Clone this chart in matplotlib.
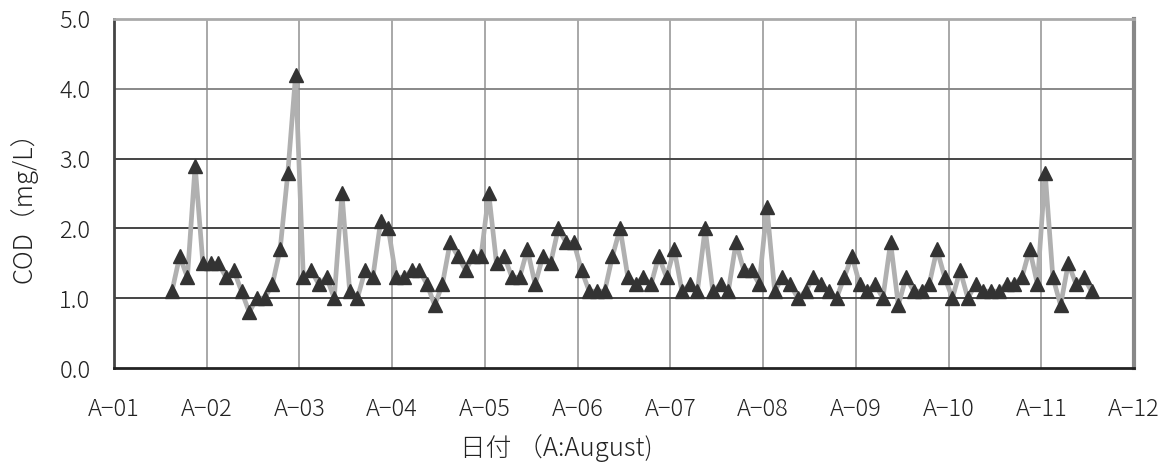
import numpy as np
import matplotlib
matplotlib.use("Agg")
import matplotlib.pyplot as plt

plt.rcParams["font.family"] = ["Noto Sans CJK JP", "DejaVu Sans"]

# COD Messwerte (mg/L), 12 Werte pro Tag
cod = [
    1.1, 1.6, 1.3, 2.9, 1.5, 1.5, 1.5, 1.3, 1.4, 1.1,
    0.8, 1.0, 1.0, 1.2, 1.7, 2.8, 4.2, 1.3, 1.4, 1.2,
    1.3, 1.0, 2.5, 1.1, 1.0, 1.4, 1.3, 2.1, 2.0, 1.3,
    1.3, 1.4, 1.4, 1.2, 0.9, 1.2, 1.8, 1.6, 1.4, 1.6,
    1.6, 2.5, 1.5, 1.6, 1.3, 1.3, 1.7, 1.2, 1.6, 1.5,
    2.0, 1.8, 1.8, 1.4, 1.1, 1.1, 1.1, 1.6, 2.0, 1.3,
    1.2, 1.3, 1.2, 1.6, 1.3, 1.7, 1.1, 1.2, 1.1, 2.0,
    1.1, 1.2, 1.1, 1.8, 1.4, 1.4, 1.2, 2.3, 1.1, 1.3,
    1.2, 1.0, 1.1, 1.3, 1.2, 1.1, 1.0, 1.3, 1.6, 1.2,
    1.1, 1.2, 1.0, 1.8, 0.9, 1.3, 1.1, 1.1, 1.2, 1.7,
    1.3, 1.0, 1.4, 1.0, 1.2, 1.1, 1.1, 1.1, 1.2, 1.2,
    1.3, 1.7, 1.2, 2.8, 1.3, 0.9, 1.5, 1.2, 1.3, 1.1,
]
tage = list(range(1, 13))
tag_labels = ["A−%02d" % t for t in tage]
y_ticks = [0.0, 1.0, 2.0, 3.0, 4.0, 5.0]

start = 1 + 7.5 / 12
x = start + np.arange(len(cod)) / 12

fig = plt.figure(figsize=(11.72, 4.66), dpi=100)
ax = fig.add_axes([114 / 1172, 98 / 466, 1020 / 1172, 349 / 466])

# Gitter
for t in tage[1:-1]:
    ax.axvline(t, color="#999999", lw=1.2, zorder=1)
for yv in y_ticks[1:-1]:
    ax.axhline(yv, color="#888888" if yv == 4.0 else "#444444", lw=1.4, zorder=1)

ax.plot(x, cod, color="#b0b0b0", lw=3.4, zorder=2)
ax.plot(x, cod, linestyle="none", marker="^", markersize=9.5,
        markerfacecolor="#333333", markeredgecolor="#333333", zorder=3)

ax.set_xlim(1, 12)
ax.set_ylim(0, 5)
ax.set_xticks(tage)
ax.set_xticklabels(tag_labels, fontweight="light")
ax.set_yticks(y_ticks)
ax.set_yticklabels(["%.1f" % v for v in y_ticks], fontweight="light")
ax.tick_params(axis="both", length=0, labelsize=17, colors="#222222")
ax.tick_params(axis="x", pad=21)
ax.tick_params(axis="y", pad=17)

ax.spines["left"].set_color("#444444")
ax.spines["left"].set_linewidth(2)
ax.spines["bottom"].set_color("#222222")
ax.spines["bottom"].set_linewidth(2)
ax.spines["top"].set_color("#aaaaaa")
ax.spines["top"].set_linewidth(2)
ax.spines["right"].set_color("#888888")
ax.spines["right"].set_linewidth(3)

fig.text(24 / 1172, 1 - 201 / 466, "COD（mg/L）", rotation=90, ha="center",
         va="center", fontsize=18.5, fontweight="light", color="#222222")
fig.text(556 / 1172, 1 - 448 / 466, "日付 （A:August)", ha="center",
         va="center", fontsize=18.5, fontweight="light", color="#222222")

fig.savefig("out.png", dpi=100)
